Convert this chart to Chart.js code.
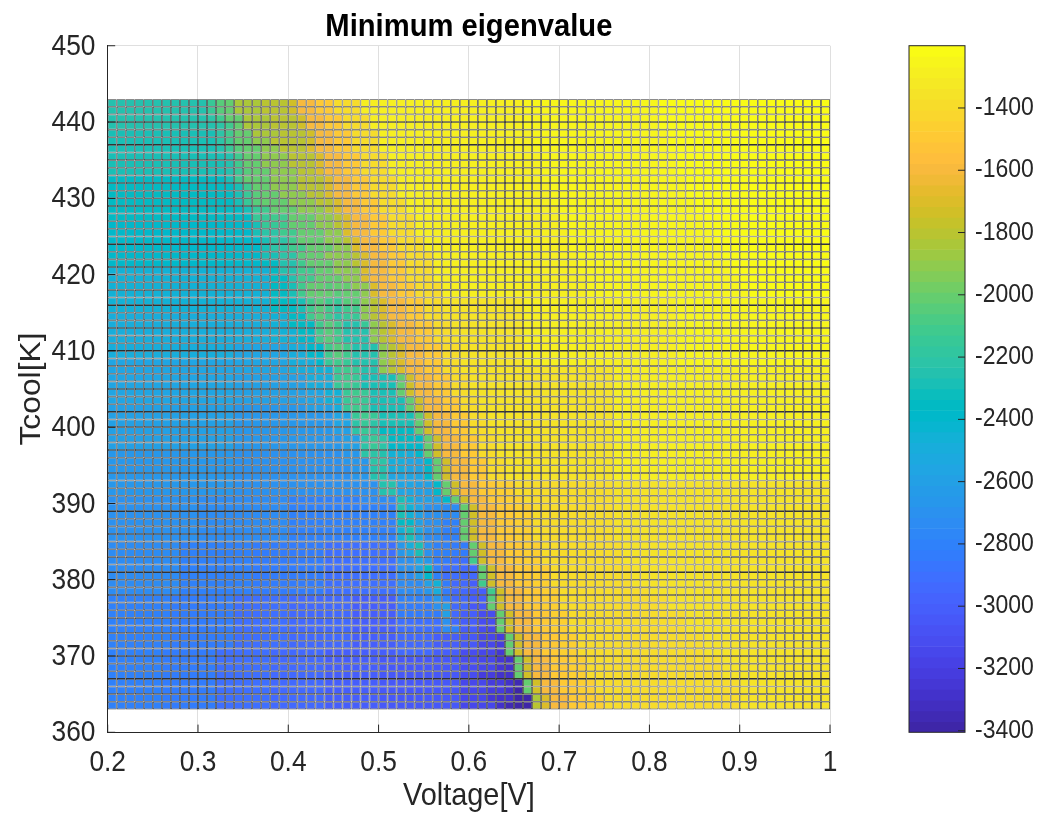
<!DOCTYPE html>
<html>
<head>
<meta charset="utf-8">
<title>Minimum eigenvalue</title>
<script src="https://cdn.jsdelivr.net/npm/chart.js@4.4.1/dist/chart.umd.min.js"></script>
<style>
    html, body { margin: 0; padding: 0; background: #fff; }
    #mainBox { position: absolute; left: 0; top: 0; width: 880px; height: 819px; }
    #barBox { position: absolute; left: 880px; top: 0; width: 160px; height: 819px; }
</style>
</head>
<body>
<div id="mainBox"><canvas id="eigChart"></canvas></div>
<div id="barBox"><canvas id="eigColorbar"></canvas></div>
<script>
'use strict';

// Voltage[V] cell left edges (0.01 V wide)
const voltage = [
    0.20, 0.21, 0.22, 0.23, 0.24, 0.25, 0.26, 0.27, 0.28, 0.29,
    0.30, 0.31, 0.32, 0.33, 0.34, 0.35, 0.36, 0.37, 0.38, 0.39,
    0.40, 0.41, 0.42, 0.43, 0.44, 0.45, 0.46, 0.47, 0.48, 0.49,
    0.50, 0.51, 0.52, 0.53, 0.54, 0.55, 0.56, 0.57, 0.58, 0.59,
    0.60, 0.61, 0.62, 0.63, 0.64, 0.65, 0.66, 0.67, 0.68, 0.69,
    0.70, 0.71, 0.72, 0.73, 0.74, 0.75, 0.76, 0.77, 0.78, 0.79,
    0.80, 0.81, 0.82, 0.83, 0.84, 0.85, 0.86, 0.87, 0.88, 0.89,
    0.90, 0.91, 0.92, 0.93, 0.94, 0.95, 0.96, 0.97, 0.98, 0.99
];

// Tcool[K] cell bottom edges, one per row of cellRuns (top row first)
const tcool = [
    442, 441, 440, 439, 438, 437, 436, 435, 434, 433,
    432, 431, 430, 429, 428, 427, 426, 425, 424, 423,
    422, 421, 420, 419, 418, 417, 416, 415, 414, 413,
    412, 411, 410, 409, 408, 407, 406, 405, 404, 403,
    402, 401, 400, 399, 398, 397, 396, 395, 394, 393,
    392, 391, 390, 389, 388, 387, 386, 385, 384, 383,
    382, 381, 380, 379, 378, 377, 376, 375, 374, 373,
    372, 371, 370, 369, 368, 367, 366, 365, 364, 363
];

// Minimum eigenvalue in 50-unit levels:
// letter = level in levelChars, "col:letter" = value from that column onwards
const levelChars = 'ABCDEFGHIJKLMNOPQRSTUVWXYZabcdefghijklmnopqrs';
const levelLow = -3400;
const levelStep = 50;
const cellRuns = [
    '0:X 11:Z 12:b 13:c 14:f 17:g 20:h 21:k 23:m 25:o 28:q 46:r 61:s',
    '0:X 11:Z 12:b 13:c 14:f 17:g 20:h 21:k 23:m 25:o 28:q 46:r 61:s',
    '0:X 11:Y 12:a 13:c 15:f 18:g 21:h 22:k 24:m 26:o 29:q 46:r 61:s',
    '0:X 12:Y 13:a 14:c 15:f 18:g 21:h 22:k 24:m 26:o 29:q 46:r 61:s',
    '0:W 12:Y 13:a 14:c 16:f 19:g 22:h 23:k 25:m 27:o 30:q 47:r 62:s',
    '0:W 12:Y 13:a 14:c 16:e 18:g 22:h 23:k 25:m 27:o 30:q 47:r 62:s',
    '0:W 12:X 13:Z 14:b 15:c 17:e 19:g 22:i 23:k 25:m 27:o 30:q 47:r 62:s',
    '0:W 13:X 14:a 15:c 17:e 20:g 23:i 24:k 26:m 28:o 31:q 48:r 63:s',
    '0:W 13:X 14:a 15:c 17:e 20:g 23:i 24:k 26:m 28:o 31:q 48:r 63:s',
    '0:W 13:X 14:Z 15:b 16:c 18:e 21:g 23:i 24:k 26:m 28:o 31:q 48:r 63:s',
    '0:V 13:W 14:a 15:c 18:e 21:g 24:i 25:k 27:m 29:o 32:q 48:r 64:s',
    '0:V 14:W 15:a 16:c 18:e 21:g 24:i 25:k 27:m 29:o 32:q 49:r 64:s',
    '0:V 14:W 15:Z 16:b 17:c 19:e 22:g 24:i 25:k 27:m 29:o 32:q 49:r 64:s',
    '0:V 14:W 15:Z 16:b 17:c 20:e 23:g 25:i 26:k 28:m 30:o 33:q 49:r 65:s',
    '0:V 15:W 16:Z 17:a 18:c 21:e 24:g 25:i 26:k 28:m 30:o 33:q 50:r 65:s',
    '0:V 16:Z 18:a 20:c 23:e 25:g 26:i 27:k 29:m 31:o 34:q 50:r 66:s',
    '0:U 16:W 17:Z 19:a 20:c 23:e 25:g 26:i 27:k 29:m 31:o 34:q 50:r 66:s',
    '0:U 16:W 17:Y 19:a 21:c 24:e 26:i 27:k 29:m 31:o 34:q 51:r 67:s',
    '0:U 17:W 18:Y 20:a 21:c 24:e 26:g 27:i 28:k 30:m 32:o 35:q 51:r 67:s',
    '0:U 17:W 18:Y 20:a 22:c 25:e 27:i 28:k 30:m 32:o 35:q 51:r 68:s',
    '0:U 17:W 19:Y 21:b 22:c 24:e 27:g 28:i 29:k 31:m 33:o 36:q 52:r 68:s',
    '0:U 17:V 19:X 21:a 22:c 25:e 27:g 28:i 29:k 31:m 33:o 36:q 52:r 69:s',
    '0:T 18:V 19:X 21:a 23:c 25:e 28:i 29:k 31:m 33:o 36:q 52:r 69:s',
    '0:T 18:V 20:X 21:a 23:c 26:e 28:i 29:k 31:m 33:o 36:q 53:r 70:s',
    '0:T 18:V 20:W 21:a 22:c 24:b 25:c 27:e 29:i 30:k 32:m 34:o 37:q 53:r 70:s',
    '0:T 18:V 20:W 21:a 22:c 25:b 26:c 28:e 29:i 30:k 32:m 34:o 37:q 53:r 71:s',
    '0:T 18:V 21:W 22:a 23:b 24:a 25:Z 26:b 28:e 29:g 30:i 31:k 33:m 35:o 37:p 46:q 63:r',
    '0:T 18:V 21:W 22:a 23:b 24:a 25:Y 26:a 28:e 29:g 30:i 31:k 33:m 35:o 37:p 46:q 63:r',
    '0:S 18:T 20:V 22:a 23:b 24:a 25:Y 26:Z 28:e 29:g 30:i 31:k 33:m 35:o 37:p 46:q 63:r',
    '0:S 18:T 20:V 23:a 24:b 25:a 26:X 28:Z 29:e 30:g 31:i 32:k 34:m 36:o 38:p 46:q 63:r',
    '0:S 18:T 21:V 23:a 24:b 25:a 26:X 29:e 30:g 31:i 32:k 34:m 36:o 38:p 46:q 63:r',
    '0:S 18:T 21:U 23:a 24:b 25:a 26:X 29:e 30:g 31:i 32:k 34:m 36:o 38:p 46:q 63:r',
    '0:S 14:R 20:S 22:U 24:a 25:b 26:a 27:X 30:e 31:g 32:i 33:k 35:m 37:o 39:p 46:q 63:r',
    '0:S 14:R 20:S 22:U 24:a 25:b 26:a 27:X 30:e 31:g 32:i 33:k 35:m 37:o 39:p 46:q 63:r',
    '0:R 20:S 23:U 24:Z 25:a 26:Z 27:X 30:e 31:g 32:i 33:k 35:m 37:o 39:p 46:q 63:r',
    '0:R 20:S 23:T 25:Z 26:a 27:Z 28:X 30:e 31:g 32:i 33:k 35:m 37:o 39:p 56:q',
    '0:R 14:Q 22:S 25:Z 26:a 27:Z 28:W 32:c 33:h 34:k 36:m 38:o 40:p 56:q',
    '0:R 14:Q 22:S 25:Z 26:a 27:Z 28:W 32:c 33:h 34:k 36:m 38:o 40:p 56:q',
    '0:R 14:Q 22:R 24:T 26:Z 27:a 28:Z 29:W 32:c 33:h 34:k 36:m 38:o 40:p 56:q',
    '0:R 14:Q 22:R 24:T 26:Z 27:a 28:Z 29:W 33:c 34:h 35:k 37:m 39:o 41:p 56:q',
    '0:Q 14:P 22:Q 25:S 26:Z 27:a 28:Z 29:W 33:c 34:h 35:k 37:m 39:o 41:p 56:q',
    '0:Q 14:P 25:R 27:Z 28:a 29:Z 30:W 34:c 35:h 36:k 38:m 40:o 42:p 56:q',
    '0:Q 14:P 25:R 27:Y 28:Z 29:Y 30:W 34:c 35:h 36:k 38:m 40:o 42:p 56:q',
    '0:Q 14:P 25:Q 27:Y 28:Z 29:Y 30:V 34:c 35:h 36:k 38:m 40:o 42:p 56:q',
    '0:Q 14:P 26:Q 28:Y 29:Z 30:Y 31:V 35:c 36:h 37:k 39:m 41:o 43:p 56:q',
    '0:Q 14:P 26:Q 28:Y 29:Z 30:Y 31:U 35:c 36:h 37:k 39:m 41:o 43:p 56:q',
    '0:P 14:O 26:P 28:Y 30:X 31:T 33:S 34:U 35:c 36:h 37:k 39:m 41:o 43:p 56:q',
    '0:P 14:O 26:P 29:Y 31:S 33:R 35:U 36:c 37:h 38:k 40:m 42:o 44:p 56:q',
    '0:P 14:O 27:P 29:X 31:S 33:R 35:U 36:c 37:h 38:k 40:m 42:o 44:p 56:q',
    '0:P 14:O 27:P 29:X 31:R 35:U 36:c 37:h 38:k 40:m 42:o 44:p 56:q',
    '0:P 14:O 28:O 30:X 32:R 34:Q 36:U 37:c 38:h 39:k 41:m 43:n 45:o 56:p',
    '0:P 14:O 28:O 30:X 32:R 34:Q 36:U 37:c 38:h 39:k 41:m 43:n 45:o 56:p',
    '0:O 10:N 20:M 28:N 32:W 33:T 34:Q 37:U 38:c 39:h 40:k 42:m 44:n 46:o 56:p',
    '0:O 10:N 20:M 32:X 33:T 34:R 35:O 37:N 39:c 40:h 41:k 43:m 45:n 47:o 56:p',
    '0:O 10:N 20:M 32:W 33:T 34:Q 35:O 37:N 39:c 40:h 41:k 43:m 45:n 47:o 56:p',
    '0:O 10:N 20:M 32:V 33:U 34:Q 35:O 37:M 39:c 40:h 41:k 43:m 45:n 47:o 56:p',
    '0:O 10:N 20:M 32:T 33:W 34:R 35:O 37:M 39:c 40:h 41:k 43:m 45:n 47:o 56:p',
    '0:O 10:N 20:M 32:S 33:W 34:R 35:N 37:M 39:c 40:h 41:k 43:m 45:n 47:o 56:p',
    '0:N 8:M 16:L 24:K 32:P 33:S 34:W 35:O 36:M 38:L 40:c 41:h 42:k 44:m 46:n 48:o 57:p',
    '0:N 8:M 16:L 24:K 32:P 33:R 34:W 35:O 36:M 38:L 40:c 41:h 42:k 44:m 46:n 48:o 57:p',
    '0:N 8:M 16:L 24:K 32:O 34:R 35:P 36:L 38:K 40:a 41:h 42:k 44:m 46:n 48:o 57:p',
    '0:N 8:M 16:L 24:K 32:O 34:Q 35:V 36:M 37:K 39:J 41:c 42:h 43:k 45:m 47:n 49:o 58:p',
    '0:N 8:M 16:L 24:K 32:N 34:Q 35:U 36:M 37:K 39:J 41:c 42:h 43:k 45:m 47:n 49:o 58:p',
    '0:N 8:M 16:L 24:K 32:N 35:Q 36:T 37:L 38:J 40:I 41:a 42:h 43:k 45:m 47:n 49:o 58:p',
    '0:N 8:M 16:L 24:K 32:N 35:P 36:S 37:L 38:J 40:I 42:a 43:h 44:k 46:m 48:n 50:o 60:p',
    '0:M 7:L 14:K 20:J 27:I 32:M 36:P 37:M 38:J 40:I 42:b 43:h 44:k 46:m 48:n 50:o 62:p',
    '0:M 7:L 14:K 20:J 27:I 32:L 36:O 37:Q 38:J 40:H 42:c 43:h 44:k 46:m 48:n 50:o 62:p',
    '0:M 7:L 14:K 20:J 27:I 32:L 37:Q 38:J 39:I 41:G 43:c 44:h 45:k 47:m 49:n 51:o 64:p',
    '0:M 7:L 14:K 20:J 27:I 32:K 37:O 38:J 39:I 41:G 43:c 44:h 45:k 47:m 49:n 51:o 64:p',
    '0:M 7:L 14:K 20:J 27:I 32:K 37:N 38:M 39:I 41:G 42:F 43:c 44:h 45:k 47:m 49:n 51:o 64:p',
    '0:M 7:L 14:K 20:J 27:I 32:J 36:I 39:H 41:F 43:E 44:c 45:h 46:k 48:m 50:n 52:o 66:p',
    '0:M 7:L 14:K 20:J 27:I 32:J 36:I 39:H 41:F 43:E 44:c 45:h 46:k 48:m 50:n 52:o 66:p',
    '0:M 6:L 12:K 18:J 24:I 32:J 36:I 39:G 41:F 43:D 44:c 45:h 46:k 48:m 50:n 52:o 66:p',
    '0:M 6:L 12:K 18:J 24:I 30:H 39:G 41:F 43:D 44:C 45:c 46:h 47:k 49:m 51:n 53:o 68:p',
    '0:M 6:L 12:K 18:J 24:I 30:H 39:G 41:F 43:D 44:C 45:c 46:h 47:k 49:m 51:n 53:o 68:p',
    '0:M 6:L 12:K 18:J 24:I 30:H 39:G 41:E 43:C 45:c 46:h 47:k 49:m 51:n 53:o 68:p',
    '0:M 6:L 12:K 18:J 24:I 30:H 39:F 42:E 44:C 45:B 46:c 47:h 48:k 50:m 52:n 54:o 70:p',
    '0:M 6:L 12:K 18:J 24:I 30:H 39:F 42:E 44:C 45:A 46:c 47:h 48:k 50:m 52:n 54:o 70:p',
    '0:M 6:L 12:K 18:J 24:I 30:H 39:F 42:D 43:C 45:A 47:f 48:i 49:k 51:m 53:n 55:o 70:p',
    '0:M 6:L 12:K 18:J 24:I 30:H 39:F 43:C 44:B 45:A 47:g 48:i 49:k 51:m 53:n 55:o 70:p'
];

// Axis ticks
const xTicks = [0.2, 0.3, 0.4, 0.5, 0.6, 0.7, 0.8, 0.9, 1];
const xTickLabels = ['0.2', '0.3', '0.4', '0.5', '0.6', '0.7', '0.8', '0.9', '1'];
const yTicks = [360, 370, 380, 390, 400, 410, 420, 430, 440, 450];
const yTickLabels = ['360', '370', '380', '390', '400', '410', '420', '430', '440', '450'];
const barTicks = [-3400, -3200, -3000, -2800, -2600, -2400, -2200, -2000, -1800, -1600, -1400];
const barTickLabels = ['-3400', '-3200', '-3000', '-2800', '-2600', '-2400', '-2200', '-2000', '-1800', '-1600', '-1400'];

// Colour limits of the colorbar
const cMin = -3405;
const cMax = -1200;

// parula, 64 entries
const parula = [
    [0.2422, 0.1504, 0.6603], [0.2504, 0.1650, 0.7076], [0.2578, 0.1818, 0.7511], [0.2647, 0.1978, 0.7952],
    [0.2706, 0.2147, 0.8364], [0.2751, 0.2342, 0.8710], [0.2783, 0.2559, 0.8991], [0.2803, 0.2782, 0.9221],
    [0.2813, 0.3006, 0.9414], [0.2810, 0.3228, 0.9579], [0.2795, 0.3447, 0.9717], [0.2760, 0.3667, 0.9829],
    [0.2699, 0.3892, 0.9906], [0.2602, 0.4123, 0.9952], [0.2440, 0.4358, 0.9988], [0.2206, 0.4603, 0.9973],
    [0.1963, 0.4847, 0.9892], [0.1834, 0.5074, 0.9798], [0.1786, 0.5289, 0.9682], [0.1764, 0.5499, 0.9520],
    [0.1687, 0.5703, 0.9359], [0.1540, 0.5902, 0.9218], [0.1460, 0.6091, 0.9079], [0.1380, 0.6276, 0.8973],
    [0.1248, 0.6459, 0.8883], [0.1113, 0.6635, 0.8763], [0.0952, 0.6798, 0.8598], [0.0689, 0.6948, 0.8394],
    [0.0297, 0.7082, 0.8163], [0.0036, 0.7203, 0.7917], [0.0067, 0.7312, 0.7660], [0.0433, 0.7411, 0.7394],
    [0.0964, 0.7500, 0.7120], [0.1408, 0.7584, 0.6842], [0.1717, 0.7670, 0.6554], [0.1938, 0.7758, 0.6251],
    [0.2161, 0.7843, 0.5923], [0.2470, 0.7918, 0.5567], [0.2906, 0.7973, 0.5188], [0.3406, 0.8008, 0.4789],
    [0.3909, 0.8029, 0.4354], [0.4456, 0.8024, 0.3909], [0.5044, 0.7993, 0.3480], [0.5616, 0.7942, 0.3045],
    [0.6174, 0.7876, 0.2612], [0.6720, 0.7793, 0.2227], [0.7242, 0.7698, 0.1910], [0.7738, 0.7598, 0.1646],
    [0.8203, 0.7498, 0.1535], [0.8634, 0.7406, 0.1596], [0.9035, 0.7330, 0.1774], [0.9393, 0.7288, 0.2100],
    [0.9728, 0.7298, 0.2394], [0.9956, 0.7434, 0.2371], [0.9970, 0.7659, 0.2199], [0.9952, 0.7893, 0.2028],
    [0.9892, 0.8136, 0.1885], [0.9786, 0.8386, 0.1766], [0.9676, 0.8639, 0.1643], [0.9610, 0.8890, 0.1537],
    [0.9597, 0.9135, 0.1423], [0.9628, 0.9373, 0.1265], [0.9691, 0.9606, 0.1064], [0.9769, 0.9839, 0.0805]
];

const FONT = "'Liberation Sans', Arial, Helvetica, sans-serif";
const AXIS_COLOR = '#262626';
const GRID_COLOR = '#dfdfdf';
const EDGE_COLOR = 'rgba(0, 0, 0, 0.8)';
// glyphs in the reference are ~10% taller than they are wide
const TEXT_STRETCH = 1.0993;

/**
 * Colormap entry -> css colour
 */
function rgb(entry) {
    return 'rgb(' + entry.map(c => Math.round(c * 255)).join(',') + ')';
}

/**
 * Value -> parula colour using the colorbar limits
 */
function colorFor(v) {
    const n = parula.length;
    let i = Math.floor((v - cMin) / (cMax - cMin) * n);
    i = Math.max(0, Math.min(n - 1, i));
    return rgb(parula[i]);
}

/**
 * Expand one "col:letter ..." row into its 80 values
 */
function decodeRow(runs) {
    const out = new Array(voltage.length);
    const parts = runs.split(' ').map(p => {
        const [col, ch] = p.split(':');
        return [Number(col), ch];
    });
    parts.forEach(([start, ch], k) => {
        const end = k + 1 < parts.length ? parts[k + 1][0] : voltage.length;
        const value = levelLow + levelStep * levelChars.indexOf(ch);
        for (let c = start; c < end; c++) out[c] = value;
    });
    return out;
}

/**
 * Make fillText on this context draw glyphs stretched vertically (page y)
 * around their anchor point, whatever rotation is active
 */
function stretchText(ctx) {
    const baseFill = ctx.fillText.bind(ctx);
    ctx.fillText = function (text, x, y, maxWidth) {
        const m = this.getTransform();
        const p = m.transformPoint(new DOMPoint(x, y));
        const s = new DOMMatrix().translate(p.x, p.y).scale(1, TEXT_STRETCH).translate(-p.x, -p.y).multiply(m);
        this.setTransform(s);
        if (maxWidth === undefined) baseFill(text, x, y);
        else baseFill(text, x, y, maxWidth);
        this.setTransform(m);
    };
    return ctx;
}

// Inward tick marks on the left and bottom axes (MATLAB style)
const innerTicks = {
    id: 'innerTicks',
    beforeDatasetsDraw(chart) {
        const { ctx, chartArea: a, scales: { x, y } } = chart;
        ctx.save();
        ctx.strokeStyle = AXIS_COLOR;
        ctx.lineWidth = 1;
        ctx.beginPath();
        x.ticks.forEach(t => {
            const px = x.getPixelForValue(t.value);
            ctx.moveTo(px, a.bottom);
            ctx.lineTo(px, a.bottom - 7.7);
        });
        y.ticks.forEach(t => {
            const py = y.getPixelForValue(t.value);
            ctx.moveTo(a.left, py);
            ctx.lineTo(a.left + 7.5, py);
        });
        ctx.stroke();
        ctx.restore();
    }
};

// Frame and inner ticks of the colorbar
const barFrame = {
    id: 'barFrame',
    afterDatasetsDraw(chart) {
        const { ctx, chartArea: a, scales: { y } } = chart;
        ctx.save();
        ctx.strokeStyle = AXIS_COLOR;
        ctx.lineWidth = 1;
        ctx.strokeRect(a.left, a.top, a.right - a.left, a.bottom - a.top);
        ctx.beginPath();
        y.ticks.forEach(t => {
            const py = y.getPixelForValue(t.value);
            ctx.moveTo(a.right, py);
            ctx.lineTo(a.right - 7, py);
        });
        ctx.stroke();
        ctx.restore();
    }
};

/**
 * Render the eigenvalue map as floating bars, one dataset per Tcool row
 */
function renderMap(canvasId) {
    const el = document.getElementById(canvasId);
    if (!el) return null;

    const halfStep = (voltage[1] - voltage[0]) / 2;
    const datasets = cellRuns.map((runs, r) => {
        const vals = decodeRow(runs);
        return {
            label: 'T = ' + tcool[r],
            data: vals.map((v, c) => ({ x: voltage[c] + halfStep, y: [tcool[r], tcool[r] + 1], v })),
            backgroundColor: vals.map(colorFor),
            borderColor: EDGE_COLOR,
            borderWidth: 0.8,
            borderSkipped: false,
            inflateAmount: 0,
            grouped: false,
            barPercentage: 1,
            categoryPercentage: 1
        };
    });

    return new Chart(stretchText(el.getContext('2d')), {
        type: 'bar',
        data: { datasets },
        options: {
            responsive: true,
            maintainAspectRatio: false,
            animation: false,
            devicePixelRatio: 1,
            events: [],
            layout: { padding: { left: 0, right: 50, top: 0, bottom: 0 } },
            plugins: {
                legend: { display: false },
                tooltip: { enabled: false },
                title: {
                    display: true,
                    text: 'Minimum eigenvalue',
                    fullSize: false,
                    color: '#000',
                    font: { family: FONT, size: 29.2, weight: 'bold', lineHeight: 1.2 },
                    padding: { top: 9.3, bottom: 1.4 }
                }
            },
            scales: {
                x: {
                    type: 'linear',
                    min: 0.2,
                    max: 1,
                    offset: false,
                    afterBuildTicks: s => { s.ticks = xTicks.map(v => ({ value: v })); },
                    afterFit: s => { s.height = 86.7; },
                    grid: { color: GRID_COLOR, drawTicks: false, offset: false },
                    border: { color: AXIS_COLOR, width: 1, z: 1 },
                    ticks: {
                        padding: 15.3,
                        color: AXIS_COLOR,
                        maxRotation: 0,
                        font: { family: FONT, size: 26.3 },
                        callback: (v, i) => xTickLabels[i]
                    },
                    title: {
                        display: true,
                        text: 'Voltage[V]',
                        color: AXIS_COLOR,
                        font: { family: FONT, size: 28.9, lineHeight: 1.2 },
                        padding: { top: 0, bottom: 5.6 }
                    }
                },
                y: {
                    type: 'linear',
                    min: 360,
                    max: 450,
                    afterBuildTicks: s => { s.ticks = yTicks.map(v => ({ value: v })); },
                    afterFit: s => { s.width = 107.7; },
                    grid: { color: GRID_COLOR, drawTicks: false },
                    border: { color: AXIS_COLOR, width: 1, z: 1 },
                    ticks: {
                        padding: 12.2,
                        labelOffset: 1.1,
                        color: AXIS_COLOR,
                        font: { family: FONT, size: 26.3 },
                        callback: (v, i) => yTickLabels[i]
                    },
                    title: {
                        display: true,
                        text: 'Tcool[K]',
                        color: AXIS_COLOR,
                        font: { family: FONT, size: 28.9, lineHeight: 1.2 },
                        padding: { top: 14.7, bottom: 0 }
                    }
                }
            }
        },
        plugins: [innerTicks]
    });
}

/**
 * Render the colorbar as stacked floating bars, one per colormap entry
 */
function renderColorbar(canvasId) {
    const el = document.getElementById(canvasId);
    if (!el) return null;

    const n = parula.length;
    const span = (cMax - cMin) / n;
    const segments = parula.map((c, i) => ({ x: 'cb', y: [cMin + i * span, cMin + (i + 1) * span] }));

    return new Chart(stretchText(el.getContext('2d')), {
        type: 'bar',
        data: {
            labels: ['cb'],
            datasets: [{
                data: segments,
                backgroundColor: parula.map(rgb),
                borderWidth: 0,
                grouped: false,
                barPercentage: 1,
                categoryPercentage: 1
            }]
        },
        options: {
            responsive: true,
            maintainAspectRatio: false,
            animation: false,
            devicePixelRatio: 1,
            events: [],
            layout: { padding: { left: 29, right: 0, top: 45.7, bottom: 86.7 } },
            plugins: {
                legend: { display: false },
                tooltip: { enabled: false }
            },
            scales: {
                x: { type: 'category', display: false },
                y: {
                    type: 'linear',
                    position: 'right',
                    min: cMin,
                    max: cMax,
                    afterBuildTicks: s => { s.ticks = barTicks.map(v => ({ value: v })); },
                    afterFit: s => { s.width = 75; },
                    grid: { display: false, drawTicks: false },
                    border: { display: false },
                    ticks: {
                        padding: 10,
                        color: AXIS_COLOR,
                        font: { family: FONT, size: 23 },
                        callback: (v, i) => barTickLabels[i]
                    }
                }
            }
        },
        plugins: [barFrame]
    });
}

renderMap('eigChart');
renderColorbar('eigColorbar');
</script>
</body>
</html>
